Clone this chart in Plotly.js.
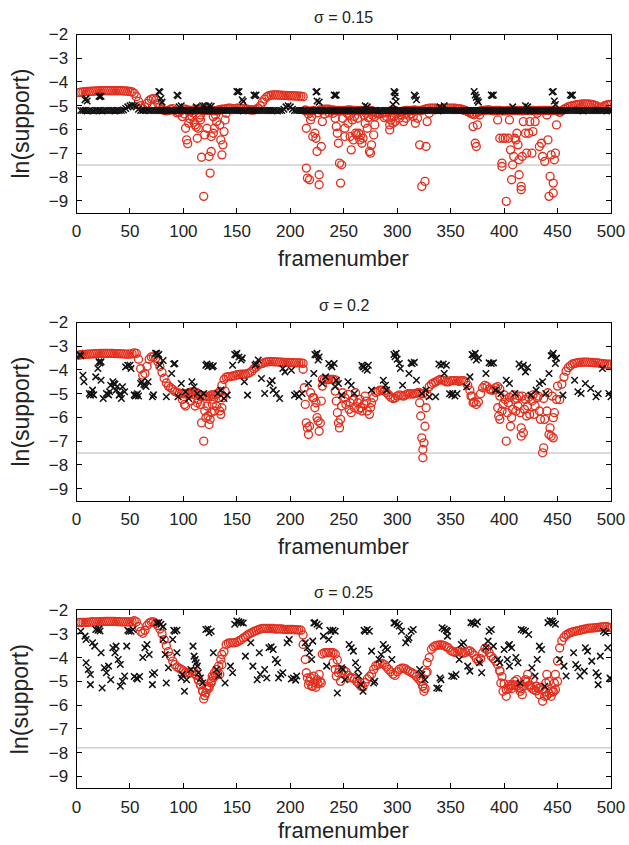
<!DOCTYPE html>
<html><head><meta charset="utf-8">
<script src="https://cdn.plot.ly/plotly-3.0.1.min.js"></script>
<style>body{margin:0;background:#fff}#chart{width:629px;height:845px}</style>
</head><body><div id="chart"></div>
<script>
// ---------- axis ticks / labels ----------
const xTicks = [0,50,100,150,200,250,300,350,400,450,500];
const yTicks = [-2,-3,-4,-5,-6,-7,-8,-9];
const panelTitles = ['σ = 0.15','σ = 0.2','σ = 0.25'];
const refLevels = [-7.5,-7.5,-7.8];

// frame index for the dense runs (every 2nd frame, 2..500)
const runFrames = [];
for (let f = 2; f <= 500; f += 2) runFrames.push(f);

// ---------- sigma = 0.15 ----------
const red1Run = [
-4.45,-4.43,-4.42,-4.41,-4.40, -4.40,-4.39,-4.39,-4.38,-4.38, -4.37,-4.37,-4.37,-4.37,-4.37, -4.37,-4.37,-4.37,-4.37,-4.37,
-4.37,-4.38,-4.38,-4.39,-4.40, -4.42,-4.48,-4.62,-4.82,-5.0, -5.12,-5.05,-4.9,-4.78,-4.72, -4.7,-4.76,-4.9,-5.05,-5.15,
-5.2,-5.22,-5.2,-5.15,-5.12, -5.2,-5.3,-5.28,-5.2,-5.15, -5.15,-5.18,-5.2,-5.2,-5.18, -5.15,-5.15,-5.18,-5.2,-5.2,
-5.2,-5.18,-5.2,-5.2,-5.22, -5.2,-5.18,-5.15,-5.15,-5.12, -5.1,-5.1,-5.12,-5.12,-5.1, -5.1,-5.1,-5.12,-5.15,-5.15,
-5.17,-5.18,-5.18,-5.15,-5.1, -5.0,-4.85,-4.72,-4.63,-4.58, -4.56,-4.55,-4.55,-4.55,-4.56, -4.56,-4.57,-4.57,-4.58,-4.58,
-4.58,-4.59,-4.59,-4.6,-4.6, -4.62,-5.22,null,-5.22,null, -5.2,null,null,-5.18,-5.18, -5.15,-5.15,-5.15,-5.18,-5.18,
-5.2,-5.2,-5.2,-5.22,-5.2, -5.2,-5.18,-5.18,-5.2,-5.2, -5.2,-5.22,-5.2,-5.2,-5.2, -5.22,-5.2,-5.2,-5.25,-5.3,
-5.35,-5.35,-5.32,-5.3,-5.3, -5.25,-5.22,-5.2,-5.2,-5.25, -5.28,-5.25,-5.22,-5.2,-5.2, -5.2,-5.2,-5.18,-5.2,-5.2,
-5.2,-5.18,-5.15,-5.12,-5.1, -5.1,-5.1,-5.1,-5.12,-5.12, -5.12,-5.1,-5.1,-5.1,-5.1, -5.1,-5.1,-5.12,-5.12,-5.15,
-5.18,-5.2,-5.25,-5.3,-5.35, -5.38,-5.3,-5.25,-5.22,-5.2, -5.2,-5.18,-5.18,-5.2,-5.22, -5.2,-5.2,-5.2,-5.22,-5.22,
-5.22,-5.2,-5.2,-5.2,-5.2, -5.2,-5.2,-5.22,-5.2,-5.2, -5.2,-5.2,-5.2,-5.2,-5.22, -5.2,-5.2,-5.2,-5.2,-5.2,
-5.2,-5.2,-5.2,-5.2,-5.22, -5.28,-5.22,-5.15,-5.1,-5.05, -5.02,-5.0,-4.98,-4.96,-4.95, -4.94,-4.93,-4.93,-4.93,-4.94,
-4.95,-4.97,-5.0,-5.05,-5.08, -5.05,-5.0,-4.97,-4.95,-4.95
];
const blk1Run = [
null,-5.2,-5.2,-5.2,-5.22, -5.2,-5.2,-5.22,-5.2,-5.2, -5.2,-5.22,-5.2,-5.2,-5.2, -5.2,-5.2,-5.22,-5.2,-5.2,
-5.2,-5.18,-5.12,-5.05,-5.0, -4.97,-5.0,-5.05,-5.15,-5.2, -5.2,-5.2,-5.18,-5.2,-5.2, -5.2,-5.2,-5.2,-5.2,-5.2,
-5.2,-5.2,-5.22,-5.2,-5.2, -5.2,-5.2,-5.2,-5.2,-5.2, -5.2,-5.2,-5.22,-5.2,-5.2, -5.2,-5.2,-5.2,-5.2,-5.2,
-5.2,-5.2,-5.2,-5.22,-5.2, -5.2,-5.2,-5.2,-5.2,-5.2, -5.2,-5.2,-5.2,-5.2,-5.2, -5.2,-5.2,-5.22,-5.2,-5.2,
-5.2,-5.2,-5.2,-5.2,-5.2, -5.2,-5.2,-5.2,-5.2,-5.2, -5.2,-5.2,-5.2,-5.22,-5.2, -5.2,-5.15,-5.05,-5.0,-5.05,
-5.15,-5.2,-5.2,-5.2,-5.2, -5.2,-5.2,-5.22,-5.2,-5.2, -5.2,-5.2,-5.2,-5.2,-5.2, -5.2,-5.2,-5.22,-5.2,-5.2,
-5.2,-5.2,-5.2,-5.2,-5.2, -5.2,-5.2,-5.2,-5.22,-5.2, -5.2,-5.2,-5.2,-5.2,-5.2, -5.2,-5.2,-5.2,-5.2,-5.2,
-5.22,-5.2,-5.2,-5.2,-5.2, -5.2,-5.2,-5.2,-5.2,-5.2, -5.2,-5.22,-5.2,-5.2,-5.2, -5.2,-5.2,-5.2,-5.2,-5.2,
-5.2,-5.2,-5.2,-5.2,-5.2, -5.2,-5.2,-5.2,-5.22,-5.2, -5.2,-5.2,-5.2,-5.2,-5.2, -5.2,-5.2,-5.2,-5.2,-5.2,
-5.2,-5.22,-5.2,-5.2,-5.2, -5.2,-5.2,-5.2,-5.2,-5.2, -5.2,-5.2,-5.2,-5.2,-5.2, -5.2,-5.2,-5.22,-5.2,-5.2,
-5.2,-5.2,-5.2,-5.2,-5.2, -5.2,-5.2,-5.2,-5.2,-5.2, -5.2,-5.22,-5.2,-5.2,-5.2, -5.2,-5.2,-5.2,-5.2,-5.2,
-5.2,-5.2,-5.2,-5.2,-5.2, -5.22,-5.2,-5.2,-5.2,-5.2, -5.2,-5.2,-5.2,-5.2,-5.2, -5.2,-5.22,-5.2,-5.2,-5.2,
-5.2,-5.2,-5.2,-5.2,-5.2, -5.2,-5.2,-5.22,-5.2,-5.2
];
const red1ScX = [99,101,102,103,104,105,106,108,109,110,111,112,113,114,115,116,116,117,119,120,122,123,124,125,126,126,128,128,129,130,131,133,134,135,136,137,138,139,140,
214,215,216,217,218,215,219,220,221,223,224,225,226,227,227,229,230,232,236,240,242,243,244,245,246,248,247,249,251,251,253,254,255,256,257,258,259,260,261,262,263,264,265,266,267,268,269,270,271,272,273,274,275,276,277,278,279,279,
288,290,293,293,294,296,297,298,300,302,304,306,308,309,311,313,315,317,319,321,323,326,327,328,330,
371,373,374,375,377,
394,396,398,398,399,401,402,404,405,406,407,408,409,410,411,412,413,414,414,416,416,417,418,420,421,423,424,426,427,429,431,433,435,436,438,440,441,442,443,444,446,446,447,448,449];
const red1ScY = [-5.46,-5.35,-5.95,-6.44,-6.6,-5.74,-5.55,-5.46,-5.3,-5.7,-5.81,-5.9,-6.37,-5.95,-5.5,-5.6,-5.39,-7.17,-8.82,-6.23,-5.95,-5.18,-7.14,-7.84,-6.93,-6.3,-6.16,-5.46,-5.95,-5.39,-5.67,-5.18,-5.81,-6.44,-7.07,-6.65,-6.09,-5.6,-5.32,
-5.18,-7.63,-8.05,-5.35,-8.12,-5.95,-5.6,-5.45,-6.3,-6.16,-6.37,-6.93,-5.3,-7.91,-8.33,-6.72,-5.67,-5.35,-5.3,-5.32,-5.53,-5.88,-6.16,-6.58,-7.42,-7.49,-8.26,-5.53,-6.3,-5.95,-5.32,-5.74,-5.4,-6.3,-6.86,-5.6,-6.44,-5.45,-6.16,-6.23,-5.53,-6.16,-6.44,-6.23,-6.58,-6.37,-5.4,-5.74,-5.32,-5.95,-5.5,-6.93,-7.0,-6.65,-5.4,-6.23,-5.81,-5.46,
-5.5,-5.45,-5.81,-6.02,-5.6,-5.74,-5.46,-5.67,-5.32,-5.53,-5.39,-5.67,-5.53,-5.32,-5.4,-5.35,-5.46,-5.74,-5.53,-6.65,-8.4,-8.19,-6.72,-5.67,-5.32,
-5.88,-6.58,-6.72,-5.81,-5.39,
-5.6,-6.37,-7.42,-7.56,-6.37,-6.37,-9.03,-6.37,-5.6,-6.86,-8.12,-7.49,-7.14,-6.37,-6.44,-6.16,-6.65,-7.28,-7.91,-8.54,-8.4,-7.14,-5.67,-6.16,-7.0,-6.16,-5.67,-7.0,-6.09,-5.67,-5.32,-6.72,-6.58,-7.14,-7.35,-5.39,-6.44,-8.82,-7.98,-7.07,-8.26,-8.68,-7.28,-7.0,-5.81];
const blk1ScX = [8,9,10,21,22,23,77,78,79,80,94,95,96,98,112,118,120,124,126,150,151,152,155,156,166,167,168,224,225,225,227,241,242,243,270,272,296,297,298,298,299,316,317,318,340,344,372,373,374,375,376,388,389,390,408,420,422,445,446,447,448,462,463,464];
const blk1ScY = [-4.75,-4.7,-4.8,-4.6,-4.62,-4.6,-4.4,-4.42,-4.7,-4.85,-4.55,-4.58,-5.05,-5.0,-5.05,-5.0,-5.0,-5.0,-5.02,-4.4,-4.42,-4.4,-4.75,-4.82,-4.55,-4.58,-4.55,-4.42,-4.4,-4.8,-4.85,-4.55,-4.57,-4.55,-5.0,-5.05,-4.95,-4.4,-4.45,-4.6,-4.82,-4.55,-4.6,-4.75,-5.05,-5.0,-4.4,-4.55,-4.65,-4.78,-4.85,-4.55,-4.57,-4.55,-5.05,-5.0,-5.05,-4.42,-4.4,-4.8,-4.95,-4.55,-4.57,-4.55];

// ---------- sigma = 0.2 ----------
const red2Run = [
-3.38,-3.36,-3.35,-3.34,-3.33, -3.33,-3.32,-3.32,-3.31,-3.31, -3.3,-3.3,-3.3,-3.3,-3.3, -3.3,-3.3,-3.31,-3.31,-3.31,
-3.32,-3.32,-3.33,-3.33,-3.33, -3.32,-3.28,-3.3,-3.55,-3.95, -4.22,-4.15,-3.85,-3.55,-3.45, -3.45,-3.5,-3.65,-3.85,-4.1,
-4.35,-4.55,-4.68,-4.75,-4.82, -4.9,-4.95,-4.98,-5.0,-5.0, -5.0,-4.98,-4.95,-4.92,-4.92, -4.95,-5.0,-5.05,-5.08,-5.1,
-5.12,-5.1,-5.05,-5.05,-5.05, -5.0,-4.9,-4.65,-4.4,-4.3, -4.28,-4.28,-4.25,-4.25,-4.2, -4.2,-4.18,-4.18,-4.18,-4.15,
-4.12,-4.05,-3.95,-3.88,-3.8, -3.75,-3.72,-3.68,-3.66,-3.65, -3.65,-3.65,-3.66,-3.66,-3.67, -3.67,-3.68,-3.68,-3.68,-3.69,
-3.69,-3.7,-3.7,-3.7,-3.7, -3.72,null,null,null,null, null,null,null,null,-4.4, -4.4,-4.4,-4.4,-4.4,-4.4,
-4.42,null,null,null,null, null,null,null,null,null, null,null,null,null,null, null,null,null,null,-4.95,
-4.9,-4.85,-4.85,-4.88,-4.95, -5.05,-5.15,-5.2,-5.18,-5.1, -5.05,-5.08,-5.1,-5.05,-5.0, -5.0,-5.02,-5.0,-4.98,-4.95,
-4.98,-5.0,null,null,-4.7, -4.6,-4.55,-4.5,-4.45,-4.4, -4.42,-4.45,-4.5,-4.5,-4.45, -4.45,-4.45,-4.45,-4.48,-4.45,
-4.45,-4.5,-4.65,-4.85,-5.1, -5.35,-5.45,-5.35,-5.0,-4.75, -4.65,-4.7,-4.8,-4.85,-4.85, -4.75,-4.7,-4.8,null,null,
null,null,null,null,null, null,null,null,null,null, null,null,null,null,null, null,null,null,null,null,
null,null,null,null,null, -5.25,-4.6,-4.3,-4.05,-3.9, -3.82,-3.75,-3.72,-3.7,-3.68, -3.68,-3.67,-3.67,-3.67,-3.68,
-3.68,-3.69,-3.7,-3.7,-3.72, -3.73,-3.75,-3.76,-3.76,-3.76
];
const red2ScX = [99,101,102,105,107,109,111,113,114,116,117,119,120,121,122,123,124,125,126,127,128,129,131,133,134,135,136,137,139,
212,213,214,215,216,217,218,219,221,222,223,224,225,226,227,228,229,230,
242,243,244,245,246,247,248,249,251,252,254,255,256,257,259,260,261,263,264,265,266,267,269,270,271,272,274,275,276,278,
321,322,323,324,324,325,326,327,328,369,371,
394,395,396,396,398,399,400,401,402,403,404,405,406,407,408,409,410,411,412,413,414,415,416,416,417,418,419,420,421,422,423,424,426,427,428,429,431,432,433,434,436,437,437,438,440,441,442,443,444,445,446,446,447,449,450];
const red2ScY = [-5.24,-5.45,-5.52,-5.03,-5.31,-5.03,-5.52,-5.38,-5.24,-5.45,-6.23,-7.0,-5.73,-6.01,-5.52,-5.94,-6.3,-6.08,-5.8,-5.45,-5.24,-5.73,-5.52,-5.17,-5.73,-5.87,-5.59,-5.17,-4.89,
-3.97,-4.75,-5.45,-6.23,-6.44,-6.72,-6.37,-4.96,-5.17,-5.17,-5.59,-5.38,-6.01,-6.15,-6.58,-6.23,-5.31,-4.68,
-4.89,-5.31,-5.8,-6.23,-6.44,-6.08,-5.52,-4.96,-5.17,-5.45,-5.03,-5.66,-5.38,-5.8,-5.24,-5.59,-4.96,-5.38,-5.66,-5.24,-5.59,-5.73,-5.45,-5.1,-5.31,-5.73,-5.87,-5.59,-5.38,-5.17,
-5.38,-5.94,-6.86,-7.35,-7.7,-7.07,-6.37,-5.59,-5.03,-5.1,-5.38,
-5.59,-5.94,-6.08,-5.1,-5.73,-5.45,-5.05,-5.24,-7.0,-5.8,-5.38,-5.15,-6.37,-6.01,-5.66,-5.05,-5.24,-5.73,-5.2,-5.52,-5.1,-5.8,-6.44,-6.79,-5.1,-6.65,-5.66,-5.24,-5.94,-5.52,-5.15,-5.87,-5.31,-5.05,-5.87,-5.52,-5.17,-5.1,-5.73,-6.08,-7.49,-7.28,-5.2,-6.08,-5.73,-4.96,-6.72,-6.44,-6.79,-5.1,-6.01,-6.86,-5.8,-5.24,-4.68];
const blk2X = [3,4,6,7,12,13,14,15,16,18,20,21,22,23,23,25,28,30,31,32,34,35,36,37,38,40,41,42,43,45,46,48,50,51,54,55,56,57,58,60,61,63,64,65,67,71,72,74,75,76,77,78,81,84,89,91,92,95,98,102,105,108,110,113,116,119,121,122,123,125,127,128,132,135,138,141,146,148,149,150,152,154,155,157,160,167,168,170,173,176,181,183,184,187,190,193,195,201,204,206,208,211,217,222,223,224,225,226,227,230,233,236,238,239,241,242,243,245,248,254,257,260,267,268,269,270,272,273,276,287,289,290,297,298,299,300,302,303,305,311,313,314,316,318,323,327,330,336,339,341,343,344,346,349,351,352,354,356,365,368,370,371,372,373,374,376,383,386,388,390,392,397,402,405,410,414,416,418,420,422,425,430,433,436,439,442,444,445,446,448,449,455,466,469,472,476,481,486,488,492,498,500];
const blk2Y = [-3.35,-3.4,-4.22,-4.5,-4.99,-5.06,-5.0,-4.85,-5.05,-4.29,-3.94,-3.65,-3.7,-3.65,-4.43,-5.2,-4.99,-5.05,-4.92,-4.64,-4.5,-4.57,-4.6,-4.85,-4.71,-5.06,-5.0,-5.2,-4.71,-4.92,-3.87,-3.8,-3.8,-3.94,-5.05,-5.1,-5.06,-5.0,-5.1,-4.57,-4.5,-4.6,-4.64,-4.7,-4.5,-5.13,-5.05,-3.3,-3.3,-3.38,-3.35,-3.8,-3.6,-5.13,-4.15,-3.75,-3.73,-5.13,-4.57,-4.92,-5.2,-4.5,-4.71,-4.99,-5.13,-4.99,-3.8,-3.75,-3.85,-3.8,-3.87,-3.82,-4.99,-4.85,-5.2,-5.06,-3.8,-3.35,-3.37,-3.3,-3.45,-3.58,-3.5,-4.5,-5.06,-3.8,-3.75,-3.58,-4.36,-4.99,-4.57,-4.45,-4.85,-4.99,-5.2,-3.94,-4.08,-4.01,-5.06,-5.0,-5.13,-4.99,-4.57,-4.15,-3.35,-3.37,-3.3,-3.58,-3.45,-4.57,-4.29,-3.73,-3.8,-3.87,-3.73,-4.71,-4.43,-4.57,-5.06,-4.5,-4.64,-4.99,-3.8,-3.87,-3.85,-3.95,-4.01,-3.8,-4.85,-4.43,-4.64,-4.85,-3.35,-3.44,-3.3,-3.55,-3.73,-3.94,-4.64,-4.15,-3.7,-3.73,-3.68,-4.43,-4.99,-4.85,-5.13,-5.13,-3.75,-3.8,-3.75,-4.15,-3.8,-5.0,-5.05,-4.99,-5.1,-5.0,-4.71,-4.29,-3.35,-3.37,-3.45,-3.3,-3.58,-3.5,-4.15,-3.7,-3.73,-3.7,-4.85,-4.99,-4.43,-4.57,-4.99,-3.75,-3.87,-3.8,-4.08,-3.9,-5.06,-4.85,-4.57,-4.5,-4.99,-4.15,-3.4,-3.37,-3.3,-3.73,-3.5,-5.06,-4.43,-4.92,-4.99,-4.57,-4.78,-5.13,-5.0,-3.94,-4.99,-5.13];

// ---------- sigma = 0.25 ----------
const red3Run = [
-2.52,-2.52,-2.52,-2.52,-2.52, -2.51,-2.5,-2.5,-2.5,-2.5, -2.49,-2.49,-2.48,-2.48,-2.48, -2.48,-2.48,-2.48,-2.49,-2.49,
-2.5,-2.5,-2.5,-2.5,-2.5, -2.5,-2.45,-2.5,-2.7,-2.9, -2.98,-2.85,-2.65,-2.55,-2.5, -2.5,-2.55,-2.65,-2.8,-3.0,
-3.25,-3.5,-3.75,-3.95,-4.15, -4.3,-4.4,-4.45,-4.5,-4.55, -4.62,-4.65,-4.65,-4.6,-4.6, -4.75,-4.95,-5.15,-5.4,-5.6,
-5.35,-5.2,-5.0,-4.85,-4.75, -4.7,-4.7,-4.3,-3.75,-3.45, -3.4,-3.38,-3.38,-3.38,-3.35, -3.3,-3.25,-3.18,-3.12,-3.05,
-3.0,-2.95,-2.9,-2.87,-2.83, -2.8,-2.78,-2.78,-2.78,-2.78, -2.78,-2.78,-2.8,-2.8,-2.8, -2.8,-2.82,-2.82,-2.82,-2.82,
-2.82,-2.83,-2.83,-2.84,-2.85, -3.05,null,null,null,null, null,null,null,null,-3.85, -3.8,-3.8,-3.8,-3.8,-3.8,
-3.85,-4.1,-4.5,-4.65,-4.55, -4.6,-4.75,-4.85,-4.85,-4.9, -5.0,-5.1,-5.2,-5.25,-5.05, -4.9,-4.8,-4.7,-4.5,-4.35,
-4.3,-4.25,-4.25,-4.3,-4.4, -4.5,-4.6,-4.7,-4.75,-4.6, -4.5,-4.45,-4.45,-4.48,-4.55, -4.6,-4.65,-4.7,-4.8,-4.9,
-5.0,-5.2,-5.3,-4.6,-4.0, -3.65,-3.55,-3.5,-3.48,-3.47, -3.47,-3.5,-3.55,-3.6,-3.7, -3.75,-3.78,-3.75,-3.72,-3.78,
-3.82,-3.78,-3.72,-3.72,-3.8, -3.9,-4.05,-4.15,-4.05,-3.8, -3.62,-3.65,-3.8,-3.95,-4.05, -4.15,-4.3,-4.55,-4.8,-5.1,
-5.35,-5.3,-5.2,-5.15,-5.15, -5.2,-5.28,-5.32,-5.2,-5.0, -5.0,-5.15,-5.3,-5.35,-5.4, -5.3,-5.25,-5.35,-5.45,-5.6,
-5.5,-5.4,-5.45,-5.35,-5.0, -3.6,-3.3,-3.15,-3.05,-3.0, -2.95,-2.92,-2.9,-2.88,-2.86, -2.84,-2.82,-2.8,-2.78,-2.76,
-2.76,-2.75,-2.74,-2.73,-2.72, -2.71,-2.7,-2.7,-2.72,-2.75
];
const red3ScX = [112,114,116,118,119,121,122,124,126,127,129,131,133,135,136,
212,214,215,216,217,218,219,220,221,222,223,224,225,226,227,228,229,
240,242,243,245,247,
322,324,325,327,328,
396,397,399,402,405,407,410,412,415,417,420,422,424,427,430,433,436,438,439,440,442,444,446,447,448,450];
const red3ScY = [-4.71,-4.93,-5.14,-5.42,-5.74,-5.49,-5.21,-5.28,-5.07,-4.78,-4.64,-4.5,-4.36,-4.08,-3.87,
-3.45,-4.08,-4.64,-4.86,-5.14,-5.0,-4.85,-5.2,-5.21,-4.78,-5.07,-5.25,-4.93,-5.1,-4.71,-5.0,-5.07,
-4.22,-4.5,-4.78,-4.64,-5.0,
-4.86,-5.21,-5.42,-4.64,-4.22,
-4.57,-5.07,-5.42,-5.63,-5.14,-5.3,-5.0,-4.93,-5.42,-5.56,-4.93,-4.71,-5.21,-4.93,-5.2,-5.56,-5.84,-5.63,-5.07,-4.71,-5.0,-5.63,-5.42,-5.07,-4.71,-4.15];
const blk3X = [4,8,9,15,17,18,20,21,22,9,11,13,13,24,23,26,28,30,32,34,36,37,39,41,41,43,45,47,48,49,51,53,54,56,57,59,62,64,66,68,71,71,73,75,77,79,81,81,83,84,86,90,91,92,94,94,98,99,101,103,107,109,110,111,112,113,114,116,118,121,123,124,126,128,131,133,139,144,146,148,150,152,154,156,158,163,165,169,171,172,176,178,180,182,184,186,188,189,191,193,197,199,201,203,205,206,214,216,218,220,221,222,223,225,227,231,234,236,237,238,240,242,244,248,249,251,255,257,259,261,263,264,266,268,269,270,272,274,276,278,279,283,285,287,289,291,295,297,298,300,302,304,308,310,311,313,315,321,323,326,337,339,340,341,342,344,346,347,347,351,353,355,358,360,362,366,368,369,371,373,375,377,379,383,385,386,388,390,394,396,400,403,404,405,405,407,411,413,415,416,418,420,423,426,429,431,433,435,438,441,443,445,446,448,452,456,458,465,467,469,471,475,476,478,482,486,488,488,490,493,495,497,499,500];
const blk3Y = [-2.89,-3.1,-3.24,-3.38,-3.52,-2.82,-2.85,-2.8,-2.88,-4.22,-4.5,-4.71,-5.14,-5.28,-3.8,-4.43,-4.64,-4.36,-4.93,-3.59,-3.8,-3.52,-4.08,-4.29,-5.21,-5.0,-4.78,-3.52,-2.85,-2.89,-2.89,-2.82,-4.8,-4.86,-4.9,-4.8,-4.0,-3.59,-3.45,-3.87,-4.71,-5.14,-4.64,-2.55,-2.53,-2.6,-2.7,-3.24,-3.87,-5.07,-4.43,-3.24,-2.85,-2.89,-2.85,-3.8,-4.86,-4.71,-5.42,-4.93,-4.5,-3.52,-3.94,-4.08,-4.22,-4.36,-4.64,-4.86,-5.07,-2.82,-2.8,-2.96,-2.89,-3.8,-4.5,-4.78,-5.07,-4.36,-4.64,-2.6,-2.46,-2.5,-2.53,-2.55,-3.94,-3.38,-4.36,-4.93,-3.8,-4.71,-4.5,-4.86,-3.59,-3.55,-3.66,-4.08,-4.22,-4.86,-4.71,-4.64,-3.38,-3.24,-4.9,-4.86,-4.95,-4.78,-3.38,-3.59,-3.8,-4.08,-3.31,-2.55,-2.53,-2.6,-2.67,-3.1,-4.36,-3.24,-2.85,-2.89,-2.85,-2.89,-5.49,-4.43,-4.5,-4.93,-3.45,-3.59,-3.73,-4.22,-4.5,-4.78,-5.14,-5.42,-2.85,-2.89,-2.82,-2.89,-3.73,-5.07,-5.0,-4.08,-3.87,-3.45,-3.59,-3.66,-4.08,-2.55,-2.53,-2.6,-2.67,-2.89,-3.38,-3.24,-3.17,-2.89,-2.82,-4.5,-4.71,-4.93,-5.28,-5.3,-4.86,-4.93,-2.75,-2.8,-2.85,-2.89,-3.1,-4.78,-4.8,-4.71,-4.08,-3.45,-3.38,-4.36,-4.57,-2.53,-2.55,-2.6,-2.5,-4.22,-4.64,-3.59,-3.31,-2.89,-2.82,-3.52,-4.08,-4.22,-3.66,-4.08,-3.5,-3.45,-4.36,-3.59,-4.0,-4.22,-5.07,-2.82,-2.85,-2.89,-3.03,-4.43,-4.78,-4.08,-3.52,-3.66,-5.21,-2.53,-2.45,-2.46,-2.55,-2.6,-4.08,-4.36,-4.78,-3.8,-4.29,-4.43,-4.78,-4.57,-3.59,-3.73,-4.15,-4.64,-4.78,-5.14,-3.94,-2.89,-2.96,-3.59,-4.86,-4.9];

// ---------- drawing ----------
const FONT = '"Liberation Sans", Arial, Helvetica, sans-serif';
const RED = '#e2301f';
const XD = [76.5/629, 611/629];
const panelsPx = [[34.5,212.5],[322.5,500.5],[610,788.3]];
const xTitleOffset = [45.5, 45.5, 42.5];
const H = 845;
const yDom = panelsPx.map(p => [1 - p[1]/H, 1 - p[0]/H]);

const panels = [
  {run:red1Run, scX:red1ScX, scY:red1ScY, bRun:blk1Run, bX:blk1ScX, bY:blk1ScY},
  {run:red2Run, scX:red2ScX, scY:red2ScY, bRun:null, bX:blk2X, bY:blk2Y},
  {run:red3Run, scX:red3ScX, scY:red3ScY, bRun:null, bX:blk3X, bY:blk3Y}
];

const redMarker = {symbol:'circle-open', size:8, color:RED, line:{color:RED, width:1.35}};
const blkMarker = {symbol:'x-thin-open', size:6.5, color:'#111', line:{color:'#111', width:1.5}};

const traces = [];
const layout = {
  width:629, height:845, margin:{l:0,r:0,t:0,b:0},
  paper_bgcolor:'#fff', plot_bgcolor:'#fff', showlegend:false,
  font:{family:FONT, color:'#222'},
  shapes:[], annotations:[]
};
panels.forEach((p,i) => {
  const k = i===0 ? '' : String(i+1);
  const xa = 'x'+k, ya = 'y'+k;
  traces.push({type:'scatter', mode:'markers', x:runFrames, y:p.run, xaxis:xa, yaxis:ya, marker:redMarker, hoverinfo:'skip'});
  traces.push({type:'scatter', mode:'markers', x:p.scX, y:p.scY, xaxis:xa, yaxis:ya, marker:redMarker, hoverinfo:'skip'});
  if (p.bRun) traces.push({type:'scatter', mode:'markers', x:runFrames, y:p.bRun, xaxis:xa, yaxis:ya, marker:blkMarker, hoverinfo:'skip'});
  traces.push({type:'scatter', mode:'markers', x:p.bX, y:p.bY, xaxis:xa, yaxis:ya, marker:blkMarker, hoverinfo:'skip'});

  layout['xaxis'+k] = {domain:XD, anchor:ya, range:[0,500], tickvals:xTicks, ticktext:xTicks.map(String),
    ticks:'inside', ticklen:5, tickwidth:1, tickcolor:'#000', mirror:'ticks', showline:true, linecolor:'#000', linewidth:1,
    showgrid:false, zeroline:false, tickfont:{family:FONT, size:17, color:'#222'}, ticklabelstandoff:3};
  layout['yaxis'+k] = {domain:yDom[i], anchor:xa, range:[-9.5,-2], tickvals:yTicks,
    ticks:'inside', ticklen:5, tickwidth:1, tickcolor:'#000', mirror:'ticks', showline:true, linecolor:'#000', linewidth:1,
    showgrid:false, zeroline:false, tickfont:{family:FONT, size:17, color:'#222'}, ticklabelstandoff:4};

  layout.shapes.push({type:'line', xref:xa+' domain', yref:ya, x0:0, x1:1, y0:refLevels[i], y1:refLevels[i],
    line:{color:'#b5b5b5', width:1}, layer:'below'});

  const top = panelsPx[i][0], bot = panelsPx[i][1];
  layout.annotations.push({text:panelTitles[i], xref:'paper', yref:'paper', x:(XD[0]+XD[1])/2, y:1-(top-17.5)/H,
    xanchor:'center', yanchor:'middle', showarrow:false, font:{family:FONT, size:16, color:'#222'}});
  layout.annotations.push({text:'framenumber', xref:'paper', yref:'paper', x:(XD[0]+XD[1])/2, y:1-(bot+xTitleOffset[i])/H,
    xanchor:'center', yanchor:'middle', showarrow:false, font:{family:FONT, size:22, color:'#222'}});
  layout.annotations.push({text:'ln(support)', xref:'paper', yref:'paper', x:20/629, y:1-((top+bot)/2)/H,
    xanchor:'center', yanchor:'middle', textangle:-90, showarrow:false, font:{family:FONT, size:23, color:'#222'}});
});

Plotly.newPlot('chart', traces, layout, {displayModeBar:false, staticPlot:true});
</script>
</body></html>
